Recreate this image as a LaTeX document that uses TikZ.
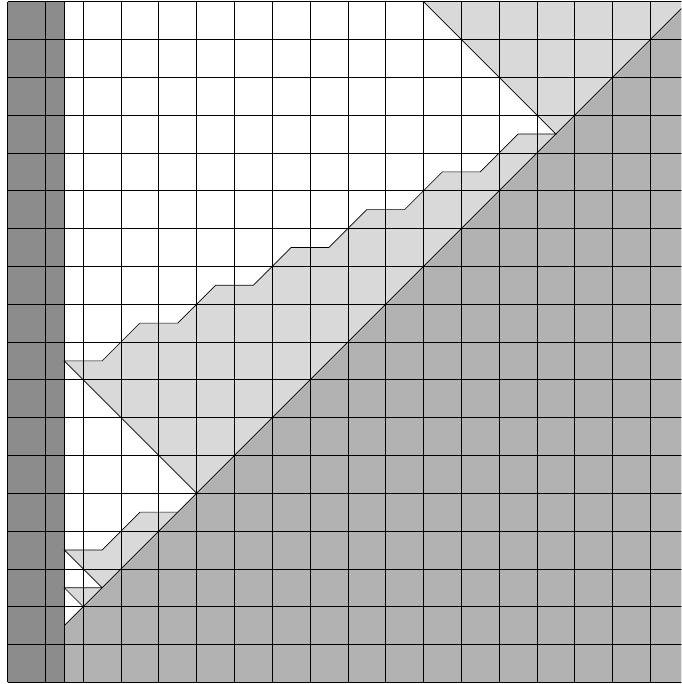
\documentclass[tikz,border=0pt]{standalone}
\usetikzlibrary{positioning}

\tikzset{
  edgeline/.style={black,line width=.5pt},
}

\begin{document}
\begin{tikzpicture}[line width=.5pt]
\useasboundingbox (-0.2,-0.045) rectangle (17.82,18.045);
\clip (-0.2,-0.045) rectangle (17.82,18.045);
% shaded regions
\fill[black!45] (0,0) rectangle (1.5,18);
\fill[black!30] (1.5,0) -- (18,0) -- (18,18) -- (1.5,1.5) -- cycle;
\fill[black!15] (11,18) -- (14.5,14.5) -- (18,18) -- cycle;
\fill[black!15] (14.5,14.5) -- (13.5,14.5) -- (12.5,13.5) -- (11.5,13.5) -- (10.5,12.5) -- (9.5,12.5) -- (8.5,11.5) -- (7.5,11.5) -- (6.5,10.5) -- (5.5,10.5) -- (4.5,9.5) -- (3.5,9.5) -- (2.5,8.5) -- (1.5,8.5) -- (5,5) -- cycle;
\fill[black!15] (4.5,4.5) -- (3.5,4.5) -- (2.5,3.5) -- (1.5,3.5) -- (2.5,2.5) -- cycle;
\fill[black!15] (2.5,2.5) -- (1.5,2.5) -- (2,2) -- cycle;
% grid
\draw[edgeline] (0,0) grid (18,18);
\draw[edgeline] (1.5,0) -- (1.5,18);
% boundaries
\draw[edgeline] (1.5,1.5) -- (18,18);
\draw[edgeline] (11,18) -- (14.5,14.5) -- (13.5,14.5) -- (12.5,13.5) -- (11.5,13.5) -- (10.5,12.5) -- (9.5,12.5) -- (8.5,11.5) -- (7.5,11.5) -- (6.5,10.5) -- (5.5,10.5) -- (4.5,9.5) -- (3.5,9.5) -- (2.5,8.5) -- (1.5,8.5) -- (5,5);
\draw[edgeline] (4.5,4.5) -- (3.5,4.5) -- (2.5,3.5) -- (1.5,3.5) -- (2.5,2.5);
\draw[edgeline] (2.5,2.5) -- (1.5,2.5) -- (2,2);
\end{tikzpicture}
\end{document}
